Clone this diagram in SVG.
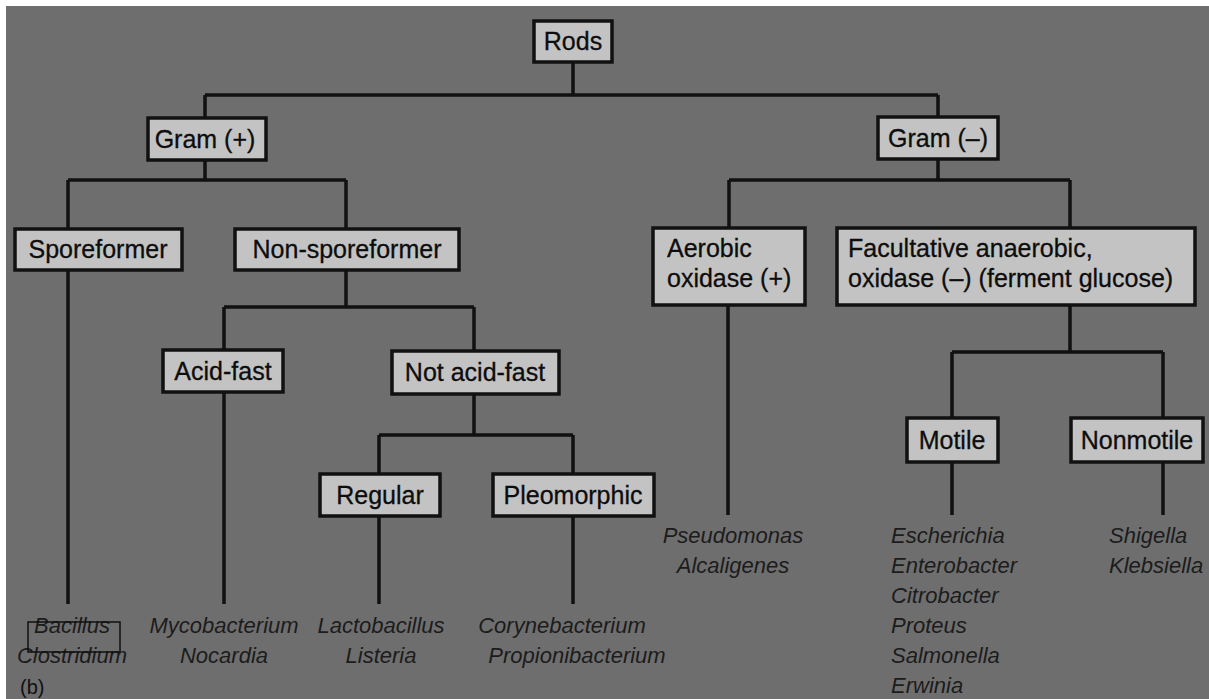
<svg xmlns="http://www.w3.org/2000/svg" width="1209" height="699" viewBox="0 0 1209 699">
<style>
.box{fill:#c3c3c3;stroke:#111;stroke-width:3.5}
.bt{font-family:"Liberation Sans",Arial,sans-serif;font-size:25px;fill:#0d0d0d;text-anchor:middle;stroke:#0d0d0d;stroke-width:0.3}
.bl{font-family:"Liberation Sans",Arial,sans-serif;font-size:25px;fill:#0d0d0d;stroke:#0d0d0d;stroke-width:0.3}
.leaf{font-family:"Liberation Sans",Arial,sans-serif;font-size:22px;font-style:italic;fill:#1c1c1c;text-anchor:middle}
.leafl{font-family:"Liberation Sans",Arial,sans-serif;font-size:22px;font-style:italic;fill:#1c1c1c}
.ln{fill:none;stroke:#111;stroke-width:3.5}
</style>
<rect x="0" y="0" width="1209" height="699" fill="#ffffff"/>
<rect x="6" y="6" width="1203" height="693" fill="#6e6e6e"/>
<g id="connectors" class="ln">
<path d="M573,62V95M205,95H938M205,95V118M938,95V117"/>
<path d="M205,160V180M68,180H346M68,180V229M346,180V229"/>
<path d="M938,159V180M729,180H1070M729,180V228M1070,180V228"/>
<path d="M68,270V604M346,270V307M224,307H474M224,307V350M474,307V351"/>
<path d="M224,392V604M474,394V435M379,435H573M379,435V474M573,435V474M379,516V604M573,516V604"/>
<path d="M728,305V515M1070,305V352M952,352H1163M952,352V418M1163,352V418M952,462V515M1163,462V515"/>
</g>
<g id="rods"><rect class="box" x="534" y="21" width="78" height="41"/><text class="bt" x="573" y="50">Rods</text></g>
<g id="gram-pos"><rect class="box" x="148" y="118" width="118" height="42"/><text class="bt" x="205" y="148">Gram (+)</text></g>
<g id="gram-neg"><rect class="box" x="878" y="117" width="120" height="42"/><text class="bt" x="938" y="147">Gram (–)</text></g>
<g id="sporeformer"><rect class="box" x="15" y="229" width="167" height="41"/><text class="bt" x="98" y="258">Sporeformer</text></g>
<g id="non-sporeformer"><rect class="box" x="235" y="229" width="224" height="41"/><text class="bt" x="347" y="258">Non-sporeformer</text></g>
<g id="aerobic"><rect class="box" x="653" y="228" width="152" height="77"/><text class="bl" x="667" y="257">Aerobic</text><text class="bl" x="667" y="287">oxidase (+)</text></g>
<g id="facultative"><rect class="box" x="837" y="228" width="358" height="77"/><text class="bl" x="848" y="257">Facultative anaerobic,</text><text class="bl" x="848" y="287">oxidase (–) (ferment glucose)</text></g>
<g id="acid-fast"><rect class="box" x="163" y="350" width="120" height="42"/><text class="bt" x="223" y="380">Acid-fast</text></g>
<g id="not-acid-fast"><rect class="box" x="392" y="351" width="167" height="43"/><text class="bt" x="475" y="381">Not acid-fast</text></g>
<g id="regular"><rect class="box" x="320" y="474" width="120" height="42"/><text class="bt" x="380" y="504">Regular</text></g>
<g id="pleomorphic"><rect class="box" x="493" y="474" width="161" height="42"/><text class="bt" x="573" y="504">Pleomorphic</text></g>
<g id="motile"><rect class="box" x="907" y="418" width="91" height="44"/><text class="bt" x="952" y="449">Motile</text></g>
<g id="nonmotile"><rect class="box" x="1071" y="418" width="132" height="44"/><text class="bt" x="1137" y="449">Nonmotile</text></g>
<g id="leaf-spore"><text class="leaf" x="72" y="633">Bacillus</text><text class="leaf" x="72" y="663">Clostridium</text><rect x="28" y="622" width="92" height="30" fill="none" stroke="#111" stroke-width="1.5"/></g>
<g id="leaf-acid"><text class="leaf" x="224" y="633">Mycobacterium</text><text class="leaf" x="224" y="663">Nocardia</text></g>
<g id="leaf-regular"><text class="leaf" x="381" y="633">Lactobacillus</text><text class="leaf" x="381" y="663">Listeria</text></g>
<g id="leaf-pleo"><text class="leaf" x="562" y="633">Corynebacterium</text><text class="leaf" x="577" y="663">Propionibacterium</text></g>
<g id="leaf-aerobic"><text class="leaf" x="733" y="543">Pseudomonas</text><text class="leaf" x="733" y="573">Alcaligenes</text></g>
<g id="leaf-motile"><text class="leafl" x="891" y="543">Escherichia</text><text class="leafl" x="891" y="573">Enterobacter</text><text class="leafl" x="891" y="603">Citrobacter</text><text class="leafl" x="891" y="633">Proteus</text><text class="leafl" x="891" y="663">Salmonella</text><text class="leafl" x="891" y="693">Erwinia</text></g>
<g id="leaf-nonmotile"><text class="leafl" x="1109" y="543">Shigella</text><text class="leafl" x="1109" y="573">Klebsiella</text></g>
<text x="20" y="694" font-family="Liberation Sans, Arial, sans-serif" font-size="20" fill="#111">(b)</text>
</svg>
